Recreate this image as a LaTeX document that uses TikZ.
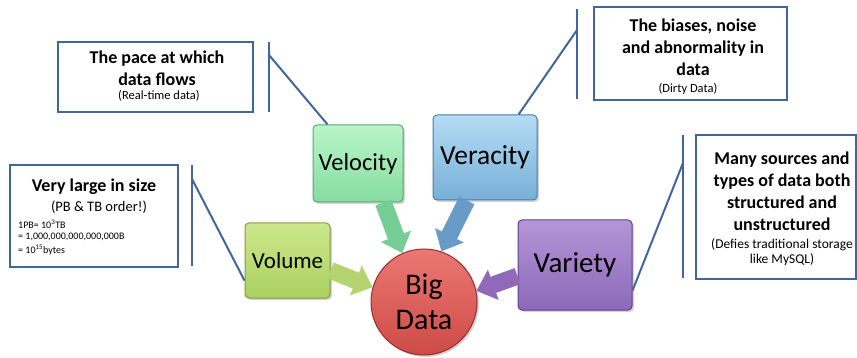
\documentclass[tikz,border=0pt]{standalone}
\usepackage{fontspec}
\setmainfont{Carlito}
\usetikzlibrary{arrows.meta,shadows}
\definecolor{calloutblue}{RGB}{65,103,154}
\definecolor{volA}{RGB}{205,232,140}
\definecolor{volB}{RGB}{170,208,95}
\definecolor{volD}{RGB}{125,160,60}
\definecolor{velA}{RGB}{185,245,200}
\definecolor{velB}{RGB}{135,220,160}
\definecolor{velD}{RGB}{85,170,115}
\definecolor{verA}{RGB}{180,220,245}
\definecolor{verB}{RGB}{120,175,215}
\definecolor{verD}{RGB}{75,125,170}
\definecolor{varA}{RGB}{180,150,215}
\definecolor{varB}{RGB}{140,105,185}
\definecolor{varD}{RGB}{95,65,140}
\definecolor{bigA}{RGB}{235,120,115}
\definecolor{bigB}{RGB}{205,75,70}
\definecolor{bigD}{RGB}{150,45,45}
\definecolor{volArr}{RGB}{180,212,112}
\definecolor{velArr}{RGB}{118,205,150}
\definecolor{verArr}{RGB}{105,155,200}
\definecolor{varArr}{RGB}{145,105,185}
\begin{document}
\begin{tikzpicture}[x=1pt,y=-1pt,
  callout/.style={draw=calloutblue,line width=2pt,fill=white,inner sep=0pt},
  bracket/.style={draw=calloutblue,line width=2pt},
  vbox/.style={rounded corners=4pt,line width=1pt,inner sep=0pt,
    drop shadow={shadow xshift=2pt,shadow yshift=-2pt,opacity=0.35}},
  title/.style={font=\bfseries\fontsize{18}{22}\selectfont,align=center,inner sep=0pt},
  note/.style={align=center,inner sep=0pt},
  tinytext/.style={font=\fontsize{10}{12}\selectfont,inner sep=0pt,anchor=west},
  flow/.style={line width=17pt,-{Triangle[width=31pt,length=18pt]}},
]
\useasboundingbox (0,0) rectangle (857,358);

% central shapes
\node[vbox,draw=volD,top color=volA,bottom color=volB,minimum width=85pt,minimum height=75pt,
  font=\fontsize{23}{27}\selectfont] (vol) at (287.5,260.5) {Volume};
\node[vbox,draw=velD,top color=velA,bottom color=velB,minimum width=90pt,minimum height=77pt,
  font=\fontsize{24.5}{29}\selectfont] (vel) at (358,163.5) {Velocity};
\node[vbox,draw=verD,top color=verA,bottom color=verB,minimum width=104pt,minimum height=85pt,
  font=\fontsize{27.5}{32}\selectfont] (ver) at (485,157.5) {Veracity};
\node[vbox,draw=varD,top color=varA,bottom color=varB,minimum width=114pt,minimum height=90pt,
  font=\fontsize{29}{34}\selectfont] (var) at (575,265) {Variety};
\node[circle,line width=1pt,draw=bigD,top color=bigA,bottom color=bigB,minimum size=106pt,inner sep=0pt,
  align=center,font=\fontsize{30}{35}\selectfont,
  drop shadow={shadow xshift=2pt,shadow yshift=-2pt,opacity=0.35}] (big) at (424,302) {Big\\Data};

% flow arrows
\draw[flow,volArr] (vol.-13) -- (big.164);
\draw[flow,velArr] (vel.-57) -- (big.114);
\draw[flow,verArr] (ver.-113) -- (big.71);
\draw[flow,varArr] (var.191) -- (big.12);

% callout: volume
\node[callout,minimum width=168pt,minimum height=102pt] (cvol) at (94,216) {};
\node[title] (tvol) at (94,187) {Very large in size};
\node[note,font=\fontsize{14.5}{17}\selectfont] (nvol) at (99,207) {(PB \& TB order!)};
\node[tinytext] (s1) at (18,224) {1PB= 10\textsuperscript{3}TB};
\node[tinytext] (s2) at (18,237) {= 1,000,000,000,000,000B};
\node[tinytext] (s3) at (18,250) {= 10\textsuperscript{15}bytes};
\coordinate (bvolT) at (192,165);
\coordinate (bvolB) at (192,266);
\coordinate (bvolK) at (192,179);
\draw[bracket] (bvolT) -- (bvolB);
\draw[bracket] (bvolK) -- (vol.205);

% callout: velocity
\node[callout,minimum width=195pt,minimum height=70pt] (cvel) at (155.5,77) {};
\node[title] (tvel) at (157,68) {The pace at which\\data flows};
\node[note,font=\fontsize{12.5}{15}\selectfont] (nvel) at (159,96) {(Real-time data)};
\coordinate (bvelT) at (269,42);
\coordinate (bvelB) at (269,112);
\coordinate (bvelK) at (269,55);
\draw[bracket] (bvelT) -- (bvelB);
\draw[bracket] (bvelK) -- (vel.128);

% callout: veracity
\node[callout,minimum width=193pt,minimum height=93pt] (cver) at (690.5,53.5) {};
\node[title] (tver) at (693,47.5) {The biases, noise\\and abnormality in\\data};
\node[note,font=\fontsize{12.5}{15}\selectfont] (nver) at (688,89) {(Dirty Data)};
\coordinate (bverT) at (577,9);
\coordinate (bverB) at (577,99);
\coordinate (bverK) at (577,30);
\draw[bracket] (bverT) -- (bverB);
\draw[bracket] (bverK) -- (ver.52);

% callout: variety
\node[callout,minimum width=160pt,minimum height=144pt] (cvar) at (776,207) {};
\node[title] (tvar) at (782,191.5) {Many sources and\\types of data both\\structured and\\unstructured};
\node[note,font=\fontsize{13.5}{15}\selectfont] (nvar) at (782,252) {(Defies traditional storage\\like MySQL)};
\coordinate (bvarT) at (683,135);
\coordinate (bvarB) at (683,278);
\coordinate (bvarK) at (683,163);
\draw[bracket] (bvarT) -- (bvarB);
\draw[bracket] (bvarK) -- (var.-24);
\end{tikzpicture}
\end{document}
